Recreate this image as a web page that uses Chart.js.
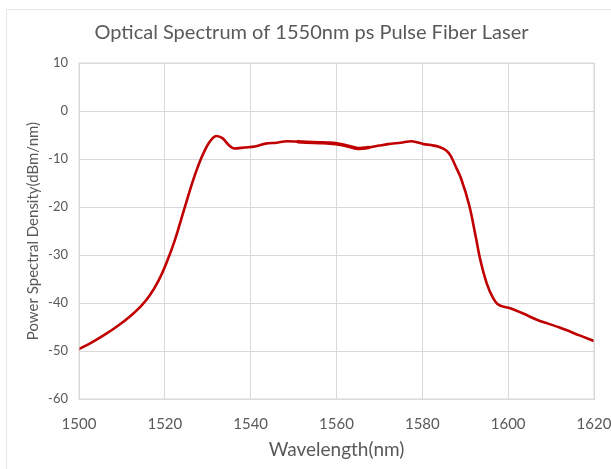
<!DOCTYPE html>
<html>
<head>
<meta charset="utf-8">
<script src="https://cdn.jsdelivr.net/npm/chart.js@4"></script>
<style>
  html, body { margin: 0; padding: 0; background: #fff; }
  #wrap { position: relative; width: 611px; height: 469px; overflow: hidden; }
  #frame { position: absolute; left: 6px; top: 9px; width: 700px; height: 600px; border: 1px solid #e6e6e6; }
  #chart { position: absolute; left: 0; top: 0; }
</style>
</head>
<body>
<div id="wrap">
  <div id="frame"></div>
  <canvas id="chart" width="611" height="469"></canvas>
</div>
<script>
// wavelength (nm) and power spectral density (dBm/nm)
const wavelength = [
  1500, 1503, 1506, 1509, 1512, 1514.5, 1516.5, 1518.5, 1520.3, 1522.3,
  1524.5, 1526.6, 1528.5, 1530.3, 1532, 1533.5, 1535, 1536.2, 1538.5, 1541,
  1543.5, 1546, 1548.5, 1551, 1553, 1556, 1558.5, 1561, 1563, 1565,
  1567.5, 1570, 1572, 1575, 1577.5, 1580.3, 1582, 1584, 1585.5, 1586.5,
  1588, 1589, 1591, 1592.3, 1593.5, 1595, 1596.5, 1597.5, 1600.5, 1603.5,
  1606.7, 1612, 1616.8, 1620,
];
const power = [
  -49.6, -48.2, -46.6, -44.8, -42.7, -40.6, -38.4, -35.4, -31.8, -27,
  -20.5, -14.4, -9.8, -6.6, -5.2, -5.7, -7.2, -7.8, -7.6, -7.4,
  -6.8, -6.6, -6.3, -6.4, -6.5, -6.6, -6.7, -7.0, -7.4, -7.8,
  -7.6, -7.2, -6.9, -6.6, -6.3, -6.9, -7.1, -7.5, -8.2, -9.2,
  -12, -14, -19.9, -25.5, -31, -35.9, -39, -40.2, -41.1, -42.2,
  -43.5, -45.1, -46.8, -47.9,
];
const xTicks = [1500, 1520, 1540, 1560, 1580, 1600, 1620];
const yTicks = [10, 0, -10, -20, -30, -40, -50, -60];
// band where the spectrum shows fine ripple (drawn as a thicker trace)
const rippleBand = [1549, 1569];

const textColor = '#595959';
const gridColor = '#d9d9d9';
const fontFamily = 'Lato, "Open Sans", sans-serif';

const points = wavelength.map((w, i) => ({ x: w, y: power[i] }));

const ctx = document.getElementById('chart').getContext('2d');
new Chart(ctx, {
  type: 'line',
  data: {
    datasets: [{
      data: points,
      borderColor: '#c00000',
      borderWidth: 2.6,
      borderCapStyle: 'round',
      borderJoinStyle: 'round',
      pointRadius: 0,
      fill: false,
      cubicInterpolationMode: 'monotone',
      segment: {
        borderWidth: (c) => (c.p0.parsed.x >= rippleBand[0] && c.p1.parsed.x <= rippleBand[1] ? 3.6 : 2.6),
      },
    }],
  },
  options: {
    responsive: false,
    animation: false,
    events: [],
    layout: { padding: { left: 12, right: 0, top: 0, bottom: 0 } },
    plugins: {
      legend: { display: false },
      tooltip: { enabled: false },
      title: {
        display: true,
        text: 'Optical Spectrum of 1550nm ps Pulse Fiber Laser',
        color: textColor,
        font: { family: fontFamily, size: 20, weight: 'normal' },
        padding: { top: 21, bottom: 18 },
      },
    },
    scales: {
      x: {
        type: 'linear',
        min: 1500,
        max: 1620,
        afterBuildTicks: (scale) => { scale.ticks = xTicks.map((v) => ({ value: v })); },
        afterFit: (scale) => {
          scale.height = 70;
          scale.paddingLeft = 0;
          scale.paddingRight = 17;
        },
        grid: { color: gridColor, drawTicks: false },
        border: { color: gridColor },
        ticks: {
          color: textColor,
          font: { family: fontFamily, size: 15 },
          padding: 16,
          maxRotation: 0,
          callback: (v) => String(v),
        },
        title: {
          display: true,
          text: 'Wavelength(nm)',
          color: textColor,
          font: { family: fontFamily, size: 19 },
          padding: { top: 8, bottom: 8 },
        },
      },
      y: {
        min: -60,
        max: 10,
        afterBuildTicks: (scale) => { scale.ticks = yTicks.map((v) => ({ value: v })); },
        afterFit: (scale) => { scale.width = 67; },
        grid: { color: gridColor, drawTicks: false },
        border: { color: gridColor },
        ticks: {
          color: textColor,
          font: { family: fontFamily, size: 13 },
          padding: 11,
          callback: (v) => String(v),
        },
        title: {
          display: true,
          text: 'Power Spectral Density(dBm/nm)',
          color: textColor,
          font: { family: fontFamily, size: 15 },
          padding: { top: 12, bottom: 12 },
        },
      },
    },
  },
  plugins: [{
    id: 'plotFrame',
    afterDraw(chart) {
      const { ctx: c, chartArea: a } = chart;
      c.save();
      c.strokeStyle = gridColor;
      c.lineWidth = 1;
      c.strokeRect(a.left, a.top, a.right - a.left, a.bottom - a.top);
      c.restore();
    },
  }],
});
</script>
</body>
</html>
